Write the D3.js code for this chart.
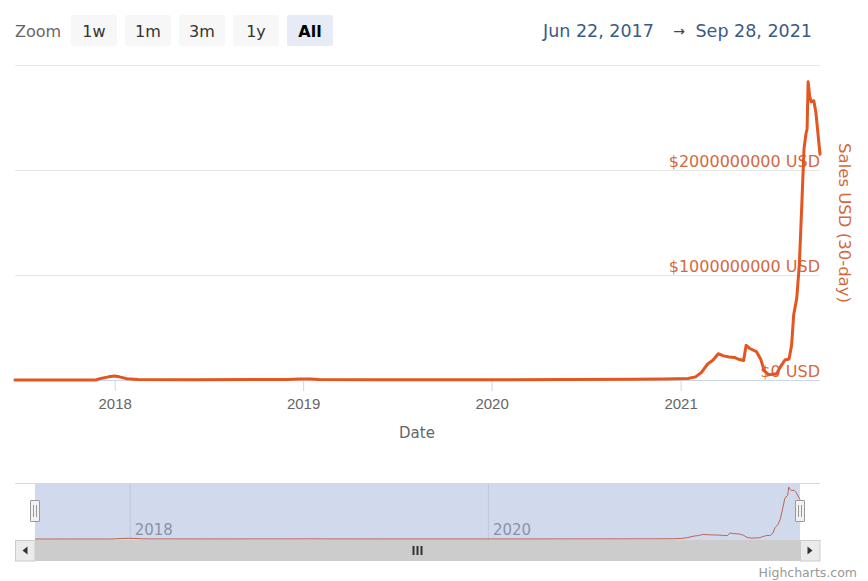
<!DOCTYPE html>
<html><head><meta charset="utf-8">
<script src="https://cdn.jsdelivr.net/npm/d3@7"></script>
<style>
html,body{margin:0;padding:0;background:#fff;}
svg{display:block;font-family:"DejaVu Sans",Verdana,sans-serif;}
</style></head><body>
<svg id="chart" width="868" height="581"></svg>
<script>
// ---- data ----
const dates = [
 "2017-06-22","2017-09-01","2017-11-25","2017-12-05","2017-12-20","2018-01-01","2018-01-10","2018-01-25",
 "2018-02-15","2018-06-01","2018-12-01","2018-12-25","2019-01-15","2019-02-01","2019-06-01","2020-01-01",
 "2020-06-01","2020-10-01","2020-12-01","2021-01-15","2021-01-30","2021-02-10","2021-02-22","2021-03-05",
 "2021-03-15","2021-03-25","2021-04-05","2021-04-15","2021-04-25","2021-05-03","2021-05-08","2021-05-15",
 "2021-05-28","2021-06-05","2021-06-12","2021-06-20","2021-06-28","2021-07-06","2021-07-14","2021-07-22",
 "2021-07-30","2021-08-04","2021-08-08","2021-08-14","2021-08-19","2021-08-24","2021-08-28","2021-09-01",
 "2021-09-03","2021-09-05","2021-09-08","2021-09-11","2021-09-16","2021-09-20","2021-09-24","2021-09-28"
];
const sales = [
 0, 200000, 500000, 15000000, 30000000, 38000000, 30000000, 12000000,
 5000000, 3000000, 5000000, 9000000, 9000000, 4000000, 3000000, 3000000,
 4000000, 8000000, 10000000, 15000000, 30000000, 70000000, 150000000, 190000000,
 250000000, 230000000, 220000000, 215000000, 195000000, 185000000, 330000000, 300000000,
 270000000, 200000000, 90000000, 50000000, 55000000, 60000000, 130000000, 190000000,
 200000000, 330000000, 620000000, 780000000, 1100000000, 1700000000, 2200000000, 2350000000,
 2390000000, 2840000000, 2700000000, 2650000000, 2660000000, 2550000000, 2350000000, 2150000000
];
const xTickDates = ["2018-01-01","2019-01-01","2020-01-01","2021-01-01"];
const xTickLabels = ["2018","2019","2020","2021"];
const navTickDates = ["2018-01-01","2020-01-01"];
const navTickLabels = ["2018","2020"];
const yGridTicks = [0, 1000000000, 2000000000, 3000000000];
const yLabelTicks = [0, 1000000000, 2000000000];
const zoomButtons = ["1w","1m","3m","1y","All"];
const selectedButton = "All";
const rangeStart = "Jun 22, 2017";
const rangeEnd = "Sep 28, 2021";
const domainStart = "2017-06-22", domainEnd = "2021-09-28";
const xTitle = "Date";
const yTitle = "Sales USD (30-day)";
const credit = "Highcharts.com";

// ---- setup ----
const P = d3.utcParse("%Y-%m-%d");
const data = dates.map((d,i)=>({date:P(d), v:sales[i]}));
const svg = d3.select("#chart");
const lineColor = "#e4561f", labelColor = "#d4693d";
const L = 15, R = 820, T = 65, B = 380;

const x = d3.scaleUtc().domain([P(domainStart), P(domainEnd)]).range([L, R]);
const y = d3.scaleLinear().domain([0, 3000000000]).range([B, T]);

// ---- range selector ----
svg.append("text").attr("x",15).attr("y",37).attr("font-size",16).attr("fill","#666").text("Zoom");
const bw = 46, bh = 31, bx0 = 71, bstep = 54;
const btn = svg.append("g").selectAll("g").data(zoomButtons).join("g")
  .attr("transform",(d,i)=>`translate(${bx0+i*bstep},15)`);
btn.append("rect").attr("width",bw).attr("height",bh).attr("rx",2)
  .attr("fill",d=>d===selectedButton?"#e6ebf5":"#f7f7f7");
btn.append("text").attr("x",bw/2).attr("y",22).attr("text-anchor","middle").attr("font-size",16)
  .attr("font-weight",d=>d===selectedButton?"bold":"normal")
  .attr("fill",d=>d===selectedButton?"#000":"#333").text(d=>d);

const rs = svg.append("g").attr("fill","#3b5a86").attr("font-size",17.5);
rs.append("text").attr("x",543).attr("y",37).text(rangeStart);
rs.append("text").attr("x",679).attr("y",36).attr("text-anchor","middle").attr("font-size",14).attr("fill","#444").text("→");
rs.append("text").attr("x",812).attr("y",37).attr("text-anchor","end").text(rangeEnd);

// ---- gridlines & y labels ----
const yAxis = d3.axisLeft(y).tickValues(yGridTicks).tickSize(R-L).tickFormat("");
const yg = svg.append("g").attr("transform",`translate(${R},0)`).call(yAxis);
yg.select(".domain").remove();
yg.selectAll(".tick line").attr("stroke","#e6e6e6");
svg.append("g").selectAll("text").data(yLabelTicks).join("text")
  .attr("x",R).attr("y",d=>y(d)-3).attr("text-anchor","end").attr("font-size",16)
  .attr("fill",labelColor).text(d=>"$"+d3.format("d")(d)+" USD");

svg.append("text").attr("transform",`translate(839,${(141+305)/2}) rotate(90)`)
  .attr("text-anchor","middle").attr("font-size",16.5).attr("fill",labelColor).text(yTitle);

// ---- x axis ----
const xAxis = d3.axisBottom(x).tickValues(xTickDates.map(P)).tickSize(11).tickPadding(0)
  .tickFormat((d,i)=>xTickLabels[i]);
const xg = svg.append("g").attr("transform",`translate(0,${B})`).call(xAxis);
xg.select(".domain").attr("stroke","#ccd6eb").attr("d",`M${L},0.5H${R}`);
xg.selectAll(".tick line").attr("stroke","#ccd6eb");
xg.selectAll(".tick text").attr("y",29).attr("dy",0).attr("font-size",15).attr("fill","#666").attr("font-family",null);
svg.append("text").attr("x",417).attr("y",438).attr("text-anchor","middle").attr("font-size",15).attr("fill","#666").text(xTitle);

// ---- main line ----
const line = d3.line().x(d=>x(d.date)).y(d=>y(d.v));
svg.append("path").datum(data).attr("d",line).attr("fill","none")
  .attr("stroke",lineColor).attr("stroke-width",3).attr("stroke-linejoin","round").attr("stroke-linecap","round");

// ---- navigator ----
const NT = 483, NB = 540, NL = 35, NR = 800;
const nx = d3.scaleUtc().domain([P(domainStart), P(domainEnd)]).range([NL, NR]);
const ny = d3.scaleLinear().domain([0, d3.max(sales)]).range([539, 487]);
const nav = svg.append("g");
const nxAxis = d3.axisBottom(nx).tickValues(navTickDates.map(P)).tickSize(-(NB-NT)).tickFormat("");
const ng = nav.append("g").attr("transform",`translate(0,${NB})`).call(nxAxis);
ng.select(".domain").remove();
ng.selectAll(".tick line").attr("stroke","#e6e6e6");
nav.append("g").selectAll("text").data(navTickDates).join("text")
  .attr("x",d=>nx(P(d))+5).attr("y",535).attr("font-size",15).attr("fill","#999")
  .text((d,i)=>navTickLabels[i]);
const nline = d3.line().x(d=>nx(d.date)).y(d=>ny(d.v));
nav.append("path").datum(data).attr("d",nline).attr("fill","none").attr("stroke",lineColor).attr("stroke-width",1);
nav.append("rect").attr("x",NL).attr("y",NT).attr("width",NR-NL).attr("height",NB-NT).attr("fill","rgba(102,133,194,0.3)");
nav.append("path").attr("d",`M${L},${NT+0.5}H${R}`).attr("stroke","#d9d9d9").attr("fill","none");

// ---- scrollbar ----
const SB = svg.append("g");
SB.append("rect").attr("x",L).attr("y",NB).attr("width",R-L).attr("height",21).attr("fill","#f2f2f2");
SB.append("rect").attr("x",NL).attr("y",NB).attr("width",NR-NL).attr("height",21).attr("fill","#cccccc");
[[L,-1],[NR,1]].forEach(([bx,dir])=>{
  SB.append("rect").attr("x",bx+0.5).attr("y",NB+0.5).attr("width",19.5).attr("height",20.5)
    .attr("fill","#ebebeb").attr("stroke","#cccccc");
  const cx = bx+10, cy = NB+10.5;
  SB.append("path").attr("d",`M${cx-2.5*dir},${cy-4}L${cx+2.5*dir},${cy}L${cx-2.5*dir},${cy+4}Z`).attr("fill","#333");
});
const gx = (NL+NR)/2;
[-5,-1,3].forEach(o=>SB.append("rect").attr("x",gx+o).attr("y",546).attr("width",2).attr("height",9).attr("fill","#333"));

// ---- handles ----
[NL,NR].forEach(hx=>{
  const h = svg.append("g").attr("transform",`translate(${hx},0)`);
  h.append("rect").attr("x",-4.5).attr("y",500.5).attr("width",9).attr("height",21).attr("fill","#f2f2f2").attr("stroke","#999").attr("rx",0.5);
  h.append("path").attr("d","M-1.5,505V517M1.5,505V517").attr("stroke","#999").attr("fill","none");
});

// ---- credits ----
svg.append("text").attr("x",857).attr("y",577).attr("text-anchor","end").attr("font-size",12.5).attr("fill","#999").text(credit);
</script>
</body></html>
